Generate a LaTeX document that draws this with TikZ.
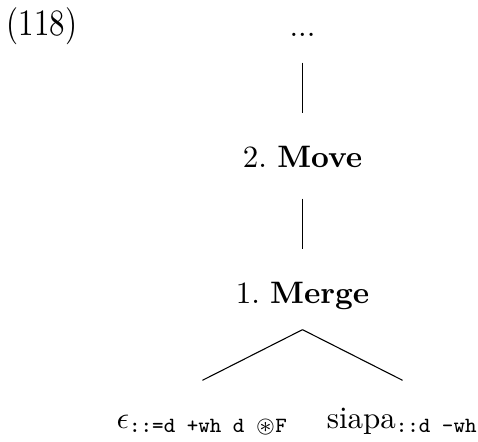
\documentclass[tikz,border=0pt]{standalone}
\usepackage{amsmath,amssymb,graphicx}
\begin{document}
\begin{tikzpicture}[x=0.3226pt,y=-0.3226pt,
  lab/.style={inner sep=0pt, anchor=base},
  edge/.style={draw=black, line width=0.35pt}]
\useasboundingbox (0,0) rectangle (478,441);
\node[lab] (num) at (42,35) {\scalebox{1}[1.2]{(118)}};
\node[lab, text depth=8.4pt] (dots) at (302.5,36) {...};
\node[lab, text height=17.1pt, text depth=10pt] (move) at (302.5,167) {2.~\textbf{Move}};
\node[lab, text height=17.1pt, text depth=8.4pt] (merge) at (302.5,303) {1.~\textbf{Merge}};
\node[lab, text height=15.2pt] (eps) at (202.5,428) {$\epsilon_{\texttt{::=d +wh d $\circledast$F}}$};
\node[lab, text height=15.2pt] (siapa) at (402.5,428) {siapa$_{\texttt{::d -wh}}$};
\draw[edge] (dots.south) -- (move.north);
\draw[edge] (move.south) -- (merge.north);
\draw[edge] (merge.south) -- (eps.north);
\draw[edge] (merge.south) -- (siapa.north);
\end{tikzpicture}
\end{document}
